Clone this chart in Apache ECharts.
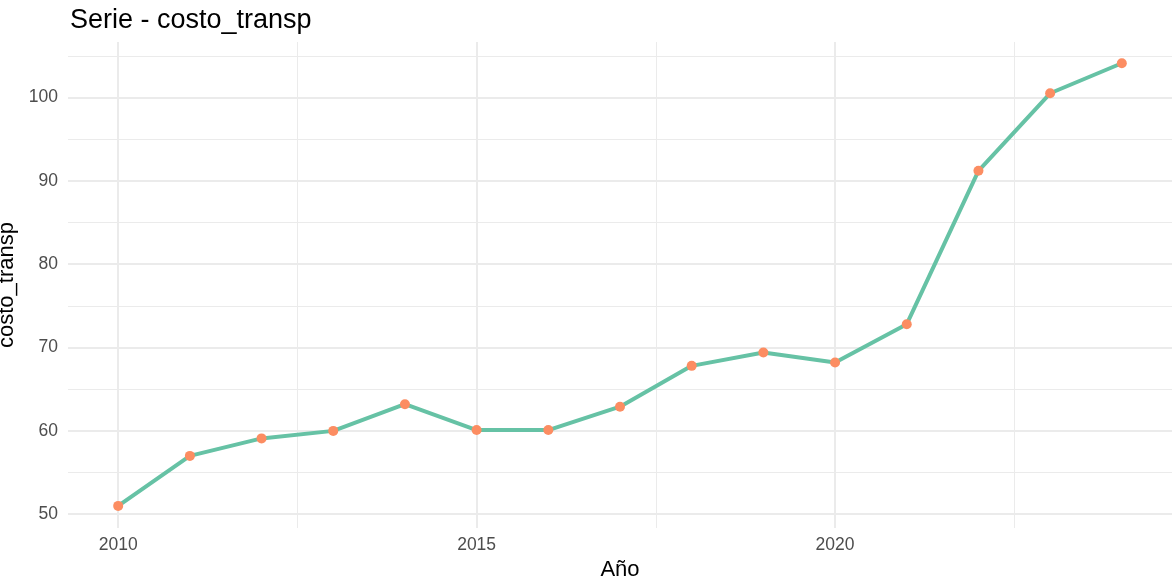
<!DOCTYPE html>
<html>
<head>
<meta charset="utf-8">
<script src="https://cdn.jsdelivr.net/npm/echarts@6/dist/echarts.min.js"></script>
<style>
  html, body { margin: 0; padding: 0; background: #fff; }
  #chart { width: 1172px; height: 583px; }
</style>
</head>
<body>
<div id="chart"></div>
<script>
// data
const years = [2010, 2011, 2012, 2013, 2014, 2015, 2016, 2017, 2018, 2019, 2020, 2021, 2022, 2023, 2024];
const costoTransp = [51.0, 57.0, 59.1, 60.0, 63.2, 60.1, 60.1, 62.9, 67.8, 69.4, 68.2, 72.8, 91.2, 100.5, 104.1];

const xMajor = [2010, 2015, 2020];
const xMinor = [2012.5, 2017.5, 2022.5];
const yMajor = [50, 60, 70, 80, 90, 100];
const yMinor = [55, 65, 75, 85, 95, 105];

const xMin = 2009.3, xMax = 2024.7;
const yMin = 48.35, yMax = 106.65;

const gridColor = "#EBEBEB";
const labelColor = "#4D4D4D";
const fontFamily = "Liberation Sans, Arial, sans-serif";

function gridAxis(custom, width, extra) {
  return Object.assign({
    type: "value",
    axisLine: { show: false },
    axisTick: { show: false, customValues: custom },
    axisLabel: { show: false, customValues: custom },
    splitLine: { show: true, lineStyle: { color: gridColor, width: width } }
  }, extra);
}

const chart = echarts.init(document.getElementById("chart"));

const option = {
  animation: false,
  textStyle: { fontFamily: fontFamily },
  title: {
    text: "Serie - costo_transp",
    left: 65,
    top: 2,
    textStyle: { fontSize: 27, fontWeight: "normal", color: "#000", fontFamily: fontFamily }
  },
  grid: { left: 68, right: 0, top: 42, bottom: 55, outerBoundsMode: "none" },
  xAxis: [
    gridAxis(xMajor, 2, {
      min: xMin, max: xMax,
      name: "Año",
      nameLocation: "middle",
      nameGap: 28,
      nameTextStyle: { fontSize: 22, color: "#000", fontFamily: fontFamily },
      axisLabel: {
        show: true, customValues: xMajor, color: labelColor, fontSize: 17.5,
        fontFamily: fontFamily, margin: 8,
        formatter: v => String(v)
      }
    }),
    gridAxis(xMinor, 1, { min: xMin, max: xMax })
  ],
  yAxis: [
    gridAxis(yMajor, 2, {
      min: yMin, max: yMax,
      name: "costo_transp",
      nameLocation: "middle",
      nameGap: 44,
      nameTextStyle: { fontSize: 22, color: "#000", fontFamily: fontFamily },
      axisLabel: {
        show: true, customValues: yMajor, color: labelColor, fontSize: 17.5,
        fontFamily: fontFamily, margin: 10
      }
    }),
    gridAxis(yMinor, 1, { min: yMin, max: yMax })
  ],
  series: [
    {
      type: "line",
      xAxisIndex: 0,
      yAxisIndex: 0,
      data: years.map((y, i) => [y, costoTransp[i]]),
      lineStyle: { color: "#66C2A5", width: 4 },
      symbol: "none",
      z: 2
    },
    {
      type: "scatter",
      xAxisIndex: 0,
      yAxisIndex: 0,
      data: years.map((y, i) => [y, costoTransp[i]]),
      symbolSize: 10,
      itemStyle: { color: "#FC8D62", opacity: 1 },
      z: 3
    }
  ]
};

chart.setOption(option);
</script>
</body>
</html>
